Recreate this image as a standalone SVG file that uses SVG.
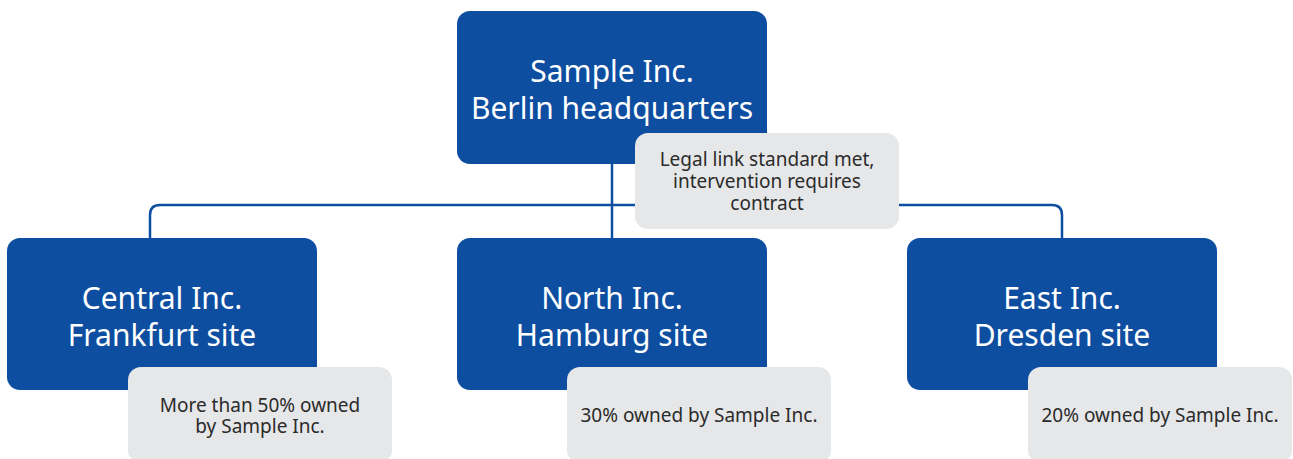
<svg xmlns="http://www.w3.org/2000/svg" width="1293" height="459" viewBox="0 0 1293 459">
  <style>
    .box { fill: #0d4ea1; }
    .note { fill: #e6e7e9; }
    .title { font-family: "Noto Sans", "Open Sans", sans-serif; font-size: 30px; fill: #ffffff; text-anchor: middle; }
    .small { font-family: "Noto Sans", "Open Sans", sans-serif; font-size: 19px; fill: #2b2b2b; text-anchor: middle; }
    .link { fill: none; stroke: #0d4ea1; stroke-width: 2.5; }
  </style>
  <rect width="1293" height="459" fill="#ffffff"/>

  <!-- connectors -->
  <g id="connectors">
    <path class="link" d="M612 164 V238"/>
    <path class="link" d="M150 238 V215 Q150 205 160 205 H1052 Q1062 205 1062 215 V238"/>
  </g>

  <g id="hq">
    <rect class="box" x="457" y="11" width="310" height="153" rx="13"/>
    <text class="title" x="612" y="82">Sample Inc.</text>
    <text class="title" x="612" y="119">Berlin headquarters</text>
  </g>

  <g id="hq-note">
    <rect class="note" x="635" y="133" width="264" height="96" rx="13"/>
    <text class="small" x="767" y="166">Legal link standard met,</text>
    <text class="small" x="767" y="188">intervention requires</text>
    <text class="small" x="767" y="210">contract</text>
  </g>

  <g id="central">
    <rect class="box" x="7" y="238" width="310" height="152" rx="13"/>
    <text class="title" x="162" y="309">Central Inc.</text>
    <text class="title" x="162" y="346">Frankfurt site</text>
  </g>
  <g id="central-note">
    <rect class="note" x="128" y="367" width="264" height="96" rx="13"/>
    <text class="small" x="260" y="412">More than 50% owned</text>
    <text class="small" x="260" y="433">by Sample Inc.</text>
  </g>

  <g id="north">
    <rect class="box" x="457" y="238" width="310" height="152" rx="13"/>
    <text class="title" x="612" y="309">North Inc.</text>
    <text class="title" x="612" y="346">Hamburg site</text>
  </g>
  <g id="north-note">
    <rect class="note" x="567" y="367" width="264" height="96" rx="13"/>
    <text class="small" x="699" y="422">30% owned by Sample Inc.</text>
  </g>

  <g id="east">
    <rect class="box" x="907" y="238" width="310" height="152" rx="13"/>
    <text class="title" x="1062" y="309">East Inc.</text>
    <text class="title" x="1062" y="346">Dresden site</text>
  </g>
  <g id="east-note">
    <rect class="note" x="1028" y="367" width="264" height="96" rx="13"/>
    <text class="small" x="1160" y="422">20% owned by Sample Inc.</text>
  </g>
</svg>
